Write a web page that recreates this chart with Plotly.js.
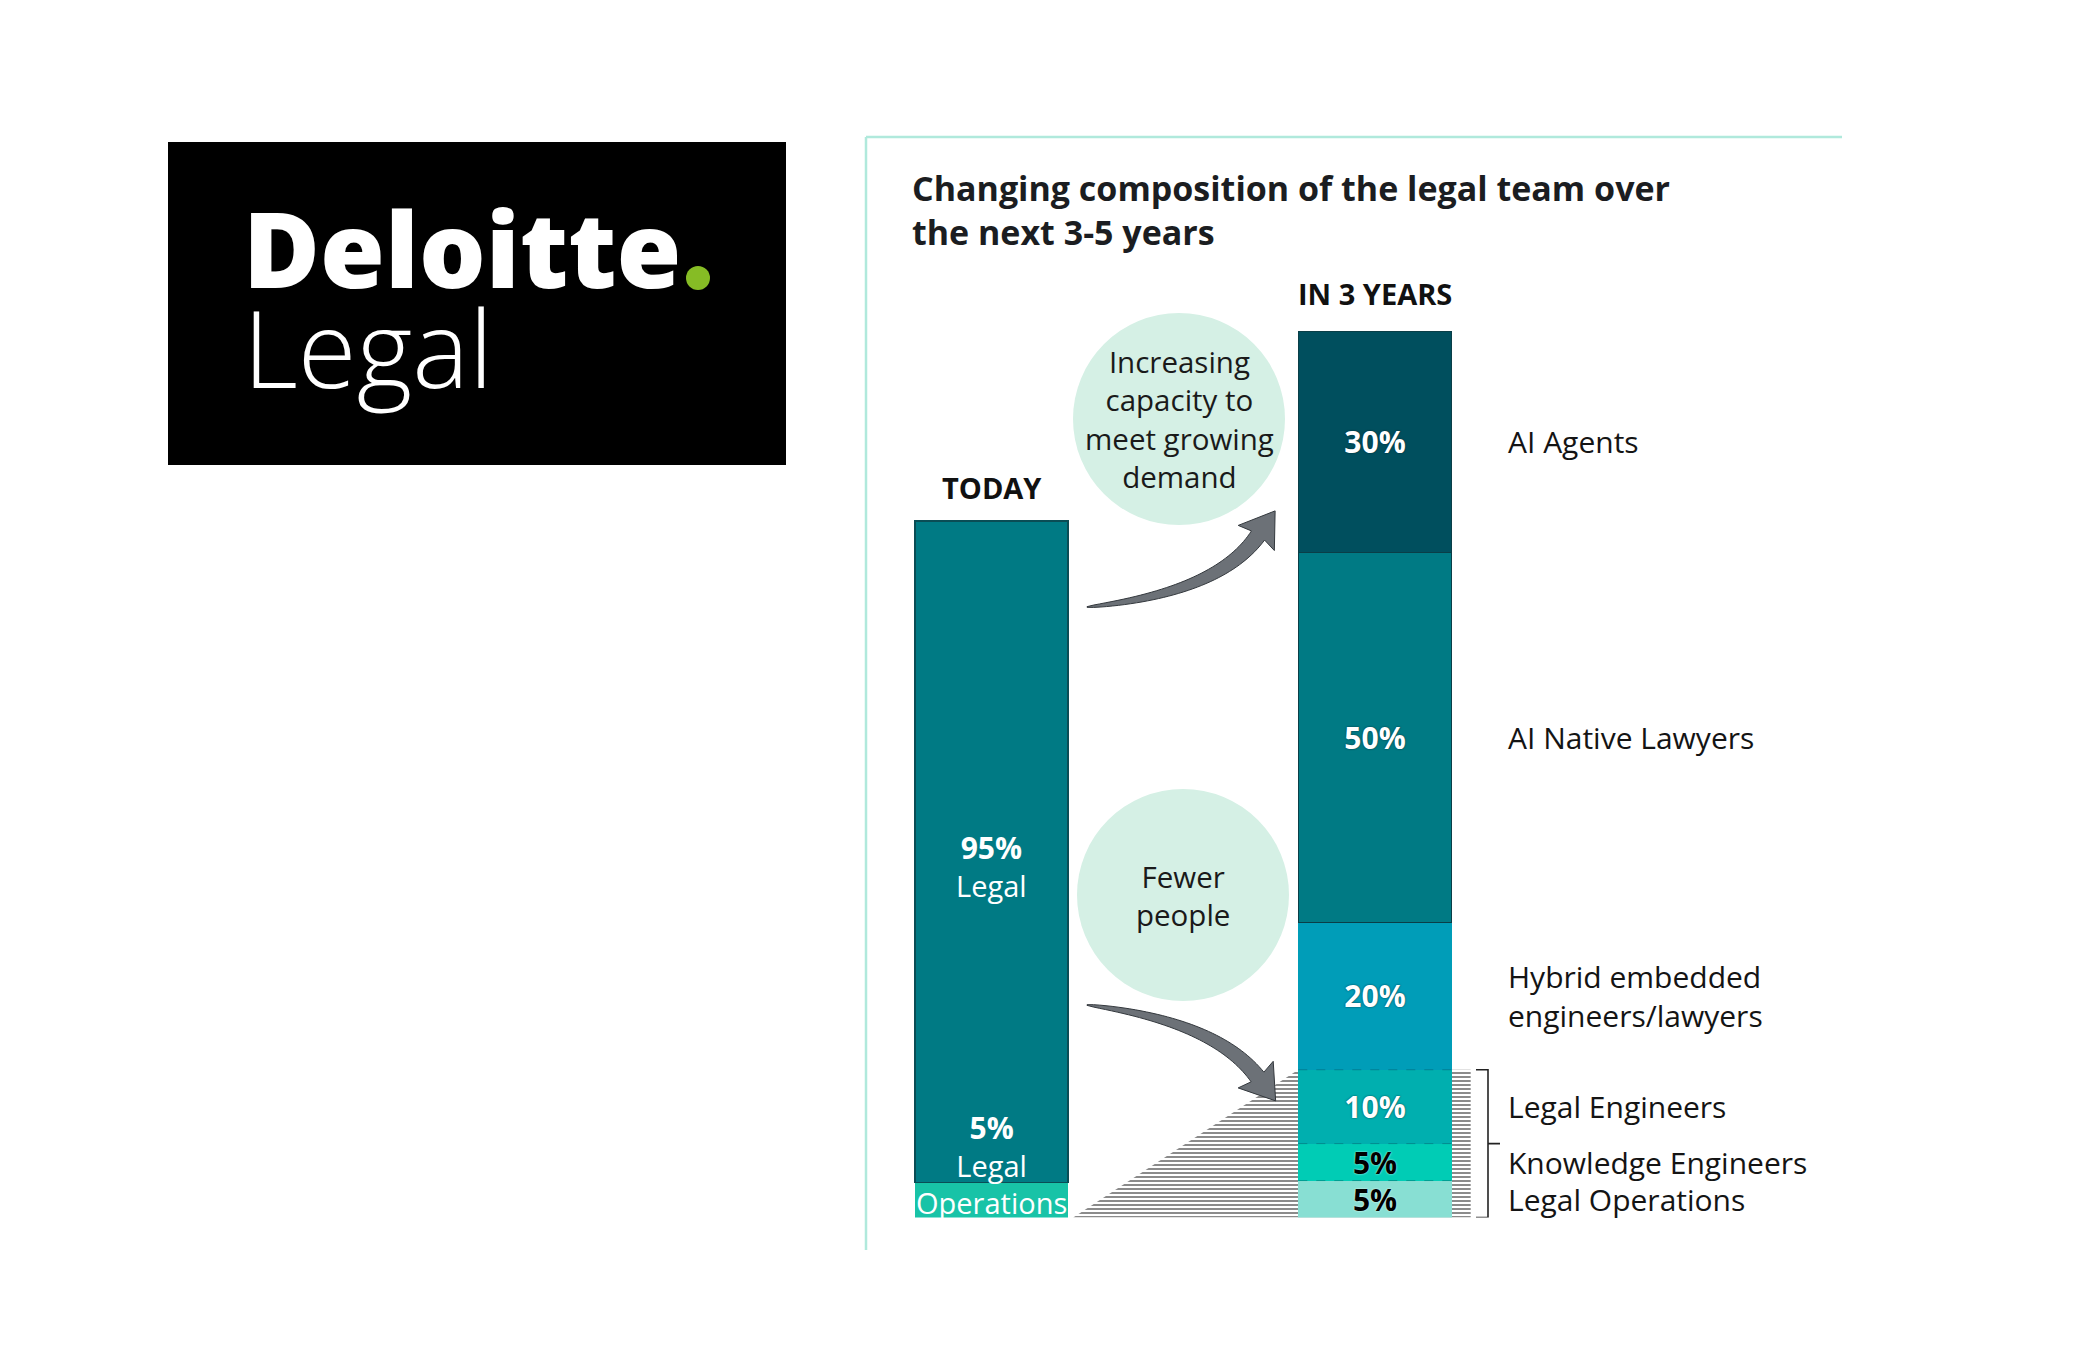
<!DOCTYPE html>
<html><head><meta charset="utf-8">
<script src="https://cdn.plot.ly/plotly-3.0.1.min.js"></script>
<style>html,body{margin:0;padding:0;background:#fff;} #chart{width:2085px;height:1355px;}</style>
</head><body><div id="chart"></div>
<script>
// ---------------- DATA ----------------
const chartTitle = 'Changing composition of the legal team over<br>the next 3-5 years';
const barCategories = ['TODAY', 'IN 3 YEARS'];
const todaySegments = ['Legal Operations', 'Legal'];
const todayValues = [5, 95];
const futureSegments = ['Legal Operations', 'Knowledge Engineers', 'Legal Engineers', 'Hybrid embedded engineers/lawyers', 'AI Native Lawyers', 'AI Agents'];
const futureValues = [5, 5, 10, 20, 50, 30];
const futureSideLabels = ['Legal Operations', 'Knowledge Engineers', 'Legal Engineers', 'Hybrid embedded<br>engineers/lawyers', 'AI Native Lawyers', 'AI Agents'];
const bracketGroupSize = 3;          // bottom three segments are bracketed
const bracketSplitAfter = 2;         // tick between 2nd and 3rd segment
const circleNotes = ['Increasing<br>capacity to<br>meet growing<br>demand', 'Fewer<br>people'];
const logoWord = 'Deloitte';
const logoSub = 'Legal';

// ---------------- STYLE / LAYOUT ----------------
const W = 2085, H = 1355;
const px = x => x / W;
const py = y => 1 - y / H;
const BAR_W = 0.4;
const UNIT_PX = 383.5;              // px per x unit
const TODAY_AXIS_MAX = 127.3;       // today's bar is drawn on its own scale
const FONT = 'Open Sans, Noto Sans, sans-serif';
const todayColors = ['#18C3A7', '#007A84'];
const futureColors = ['#88DFD3', '#00CCB5', '#00AFAF', '#009DB8', '#007A84', '#004F5E'];
const futureTextColors = ['#000000', '#000000', '#ffffff', '#ffffff', '#ffffff', '#ffffff'];

const sum = a => a.reduce((s, v) => s + v, 0);
const cum = arr => { const out = [0]; arr.forEach(v => out.push(out[out.length - 1] + v)); return out; };
const todayCum = cum(todayValues);
const futureCum = cum(futureValues);
const futureTotal = sum(futureValues);
const todayIdx = 0, futureIdx = 1;

const traces = [];
// today bar (axis y)
todayValues.forEach((v, i) => {
  traces.push({
    type: 'bar', x: [todayIdx], y: [v], name: todaySegments[i], xaxis: 'x', yaxis: 'y', width: BAR_W,
    marker: {color: todayColors[i], line: {width: i === 1 ? 1.5 : 0, color: '#0a4d55'}},
    hoverinfo: 'skip', showlegend: false
  });
});
// hatched connector (axis y2, drawn beneath future bar)
const groupTop = futureCum[bracketGroupSize];
traces.push({
  type: 'scatter', xaxis: 'x', yaxis: 'y2', mode: 'lines', line: {width: 0, color: 'rgba(0,0,0,0)'},
  x: [todayIdx + BAR_W / 2 + 5 / UNIT_PX, futureIdx - BAR_W / 2, futureIdx + BAR_W / 2 + 19 / UNIT_PX, futureIdx + BAR_W / 2 + 19 / UNIT_PX, todayIdx + BAR_W / 2 + 5 / UNIT_PX],
  y: [0, groupTop, groupTop, 0, 0],
  fill: 'toself', fillcolor: 'rgba(0,0,0,0)',
  fillpattern: {shape: '-', size: 4, solidity: 0.26, fgcolor: '#1e1e1e', bgcolor: 'rgba(0,0,0,0)', fillmode: 'replace'},
  hoverinfo: 'skip', showlegend: false
});
// future bar (axis y3)
futureValues.forEach((v, i) => {
  const white = futureTextColors[i] === '#ffffff';
  traces.push({
    type: 'bar', x: [futureIdx], y: [v], name: futureSegments[i], xaxis: 'x', yaxis: 'y3', width: BAR_W,
    marker: {color: futureColors[i], line: {width: i >= 4 ? 1 : 0, color: '#0a3e47'}},
    text: ['<b>' + v + '%</b>'], textposition: 'inside', insidetextanchor: 'middle', textangle: 0,
    constraintext: 'none',
    textfont: {family: FONT, size: 30, color: futureTextColors[i],
      shadow: white ? '0px 0px 2px rgba(0,30,40,0.8)' : '0px 0px 2px rgba(255,255,255,0.9)'},
    hoverinfo: 'skip', showlegend: false
  });
});

// ---------- shapes ----------
function taperedArrow(p0, c, p1, shaftW, headLen, headHalf) {
  const N = 40, left = [], right = [];
  for (let i = 0; i <= N; i++) {
    const t = i / N, mt = 1 - t;
    const x = mt * mt * p0[0] + 2 * mt * t * c[0] + t * t * p1[0];
    const y = mt * mt * p0[1] + 2 * mt * t * c[1] + t * t * p1[1];
    let dx = 2 * mt * (c[0] - p0[0]) + 2 * t * (p1[0] - c[0]);
    let dy = 2 * mt * (c[1] - p0[1]) + 2 * t * (p1[1] - c[1]);
    const L = Math.hypot(dx, dy); dx /= L; dy /= L;
    const nx = -dy, ny = dx;
    const hw = shaftW / 2 * (0.04 + 0.96 * Math.pow(t, 0.6));
    left.push([x + nx * hw, y + ny * hw]); right.push([x - nx * hw, y - ny * hw]);
  }
  let dx = p1[0] - c[0], dy = p1[1] - c[1]; const L = Math.hypot(dx, dy); dx /= L; dy /= L;
  const nx = -dy, ny = dx;
  const tip = [p1[0] + dx * headLen, p1[1] + dy * headLen];
  const hl = [p1[0] - dx * 3 + nx * headHalf, p1[1] - dy * 3 + ny * headHalf];
  const hr = [p1[0] - dx * 3 - nx * headHalf, p1[1] - dy * 3 - ny * headHalf];
  const pts = [...left, hl, tip, hr, ...right.reverse()];
  return 'M ' + pts.map(p => px(p[0]).toFixed(5) + ',' + py(p[1]).toFixed(5)).join(' L ') + ' Z';
}
const shapes = [];
// logo box
shapes.push({type: 'rect', xref: 'paper', yref: 'paper', x0: px(168), x1: px(786), y0: py(465), y1: py(142), fillcolor: '#000', line: {width: 0}, layer: 'above'});
shapes.push({type: 'circle', xref: 'paper', yref: 'paper', x0: px(686), x1: px(710), y0: py(290), y1: py(266), fillcolor: '#86BC25', line: {width: 0}, layer: 'above'});
// panel border
shapes.push({type: 'line', xref: 'paper', yref: 'paper', x0: px(866), x1: px(866), y0: py(137), y1: py(1250), line: {color: '#b0e9dc', width: 2.5}});
shapes.push({type: 'line', xref: 'paper', yref: 'paper', x0: px(866), x1: px(1842), y0: py(137), y1: py(137), line: {color: '#b0e9dc', width: 2.5}});
// note circles
const circleCenters = [[1179, 419], [1183, 895]];
const circleR = 106;
circleCenters.forEach(c => shapes.push({type: 'circle', xref: 'paper', yref: 'paper', x0: px(c[0] - circleR), x1: px(c[0] + circleR), y0: py(c[1] + circleR), y1: py(c[1] - circleR), fillcolor: '#d5f0e5', line: {width: 0}, layer: 'above'}));
// arrows
shapes.push({type: 'path', xref: 'paper', yref: 'paper', path: taperedArrow([1087, 607], [1218, 593], [1258, 535.5], 16, 30, 22), fillcolor: '#6c7177', line: {color: '#33383d', width: 1}, layer: 'above'});
shapes.push({type: 'path', xref: 'paper', yref: 'paper', path: taperedArrow([1087, 1005], [1215, 1021], [1257.5, 1077], 16, 30, 22), fillcolor: '#6c7177', line: {color: '#33383d', width: 1}, layer: 'above'});
// dashed separators within the bracketed group
for (let k = 1; k <= bracketGroupSize; k++) {
  shapes.push({type: 'line', xref: 'x', yref: 'y3', x0: futureIdx - BAR_W / 2, x1: futureIdx + BAR_W / 2, y0: futureCum[k], y1: futureCum[k], line: {color: 'rgba(0,70,80,0.35)', width: 1, dash: 'dash'}, layer: 'above'});
}
// bracket
const bx0 = px(1476), bx1 = px(1488), bx2 = px(1500);
shapes.push({type: 'path', xref: 'paper', yref: 'y3',
  path: `M ${bx0},${groupTop} L ${bx1},${groupTop} L ${bx1},0 L ${bx0},0 M ${bx1},${futureCum[bracketSplitAfter]} L ${bx2},${futureCum[bracketSplitAfter]}`,
  line: {color: '#222', width: 1.6}, layer: 'above'});

// ---------- annotations ----------
const ann = [];
// logo: one text block, two lines (line spacing from base size 77 -> 100px)
ann.push({xref: 'paper', yref: 'paper', x: px(241), y: py(297), xanchor: 'left', yanchor: 'middle', align: 'left',
  text: '<span style="font-size:105px;font-weight:800">' + logoWord + '</span><br><span style="font-size:107px;font-weight:300">' + logoSub + '</span>',
  showarrow: false, font: {family: FONT, size: 77, color: '#fff'}});
ann.push({xref: 'paper', yref: 'paper', x: px(910), y: py(210), xanchor: 'left', yanchor: 'middle', align: 'left', text: '<b>' + chartTitle + '</b>', showarrow: false, font: {family: FONT, size: 34, color: '#1b1d21'}});
// column headers
ann.push({xref: 'x', yref: 'y', x: todayIdx, y: sum(todayValues), yanchor: 'bottom', yshift: 12, text: '<b>' + barCategories[0] + '</b>', showarrow: false, font: {family: FONT, size: 29, color: '#111'}});
ann.push({xref: 'x', yref: 'y3', x: futureIdx, y: futureTotal, yanchor: 'bottom', yshift: 16, text: '<b>' + barCategories[1] + '</b>', showarrow: false, font: {family: FONT, size: 29, color: '#111'}});
// today labels
ann.push({xref: 'x', yref: 'y', x: todayIdx, y: (todayCum[1] + todayCum[2]) / 2, yanchor: 'middle', yshift: -14, text: '<span style="font-size:30px"><b>' + todayValues[1] + '%</b></span><br>' + todaySegments[1], showarrow: false, font: {family: FONT, size: 29, color: '#fff'}});
ann.push({xref: 'x', yref: 'y', x: todayIdx, y: (todayCum[0] + todayCum[1]) / 2, yanchor: 'middle', yshift: 36, text: '<span style="font-size:30px"><b>' + todayValues[0] + '%</b></span><br>' + todaySegments[0].replace(' ', '<br>'), showarrow: false, font: {family: FONT, size: 29, color: '#fff'}});
// side labels
futureSideLabels.forEach((t, i) => {
  ann.push({xref: 'paper', yref: 'y3', x: px(1506), y: (futureCum[i] + futureCum[i + 1]) / 2, xanchor: 'left', yanchor: 'middle', align: 'left', text: t, showarrow: false, font: {family: FONT, size: 30, color: '#141414'}});
});
// circle notes
circleNotes.forEach((t, i) => {
  ann.push({xref: 'paper', yref: 'paper', x: px(circleCenters[i][0]), y: py(circleCenters[i][1]), xanchor: 'center', yanchor: 'middle', text: t, showarrow: false, font: {family: FONT, size: 29.5, color: '#1a1a1a'}});
});

const layout = {
  width: W, height: H, margin: {l: 0, r: 0, t: 0, b: 0},
  paper_bgcolor: '#ffffff', plot_bgcolor: 'rgba(0,0,0,0)',
  barmode: 'stack', showlegend: false,
  xaxis: {domain: [px(799.75), px(1566.75)], range: [-0.5, 1.5], visible: false, fixedrange: true},
  yaxis: {domain: [py(1217.5), py(331)], range: [0, TODAY_AXIS_MAX], visible: false, fixedrange: true},
  yaxis2: {overlaying: 'y', anchor: 'x', range: [0, futureTotal], visible: false, fixedrange: true},
  yaxis3: {overlaying: 'y', anchor: 'x', range: [0, futureTotal], visible: false, fixedrange: true},
  shapes: shapes, annotations: ann
};
Plotly.newPlot('chart', traces, layout, {displayModeBar: false, staticPlot: true});
</script></body></html>
